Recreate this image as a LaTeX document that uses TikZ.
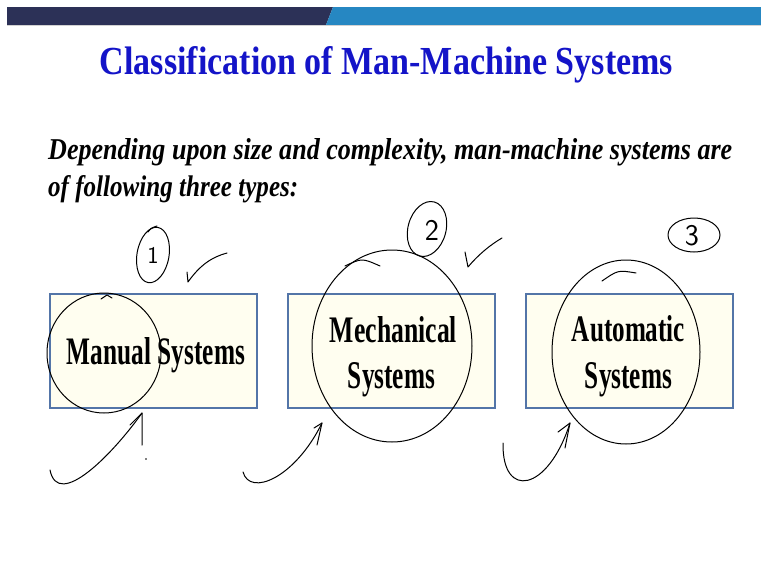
\documentclass[tikz,border=0pt]{standalone}
\usepackage{fontspec}
\setmainfont{Liberation Serif}
\usepackage{graphicx}
\definecolor{bardark}{HTML}{2C3157}
\definecolor{barblue}{HTML}{2687C2}
\definecolor{titleblue}{HTML}{1414C8}
\definecolor{boxedge}{HTML}{5375A8}
\definecolor{boxfill}{HTML}{FFFEF0}
\begin{document}
\begin{tikzpicture}[x=1pt,y=-1pt,
  sysbox/.style={draw=boxedge,line width=2pt,fill=boxfill,minimum width=207pt,minimum height=114pt,inner sep=0pt},
  txt/.style={inner sep=0pt,anchor=base},
  ink/.style={line width=1pt,line cap=round,line join=round},
  digit/.style={inner sep=0pt,font=\sffamily\fontsize{30}{30}\selectfont}]
\useasboundingbox (0,0) rectangle (761,576);
\fill[white] (0,0) rectangle (761,576);
% top bar
\fill[bardark] (7,7) -- (333,7) -- (326,25) -- (7,25) -- cycle;
\fill[barblue] (333,7) -- (761,7) -- (761,25) -- (326,25) -- cycle;
\draw[line width=1pt,color=gray!35] (7,25.5) -- (761,25.5);
% title and lead text
\node[txt,text=titleblue] (title) at (386.5,74) {\resizebox{573pt}{28pt}{\bfseries Classification of Man-Machine Systems}};
\node[txt,anchor=base west] (sub1) at (48,159) {\resizebox{684pt}{21pt}{\bfseries\itshape Depending upon size and complexity, man-machine systems are}};
\node[txt,anchor=base west] (sub2) at (48,196) {\resizebox{250pt}{21pt}{\bfseries\itshape of following three types:}};
% boxes
\node[sysbox] (b1) at (153.5,350.5) {};
\node[sysbox] (b2) at (391.5,350.5) {};
\node[sysbox] (b3) at (629.5,350.5) {};
\node[txt] (t1) at (156,364) {\resizebox{178pt}{27pt}{\bfseries Manual Systems}};
\node[txt] (t2a) at (393.5,342) {\resizebox{127pt}{26pt}{\bfseries Mechanical}};
\node[txt] (t2b) at (391.5,388) {\resizebox{87pt}{26pt}{\bfseries Systems}};
\node[txt] (t3a) at (628.5,341) {\resizebox{113pt}{26pt}{\bfseries Automatic}};
\node[txt] (t3b) at (628.5,388) {\resizebox{87pt}{26pt}{\bfseries Systems}};
% handwritten numbers
\draw[ink,shift={(153,255)},rotate=-10] (0,0) ellipse [x radius=16pt,y radius=28pt];
\draw[ink] (148,232) .. controls (151,228) .. (157,226);
\node[digit,font=\sffamily\fontsize{24}{24}\selectfont] (n1) at (153,255) {1};
\draw[ink,shift={(427,229)},rotate=-15] (0,0) ellipse [x radius=19pt,y radius=28pt];
\node[digit] (n2) at (432,230) {2};
\draw[ink] (694,235) ellipse [x radius=26pt,y radius=17pt];
\node[digit] (n3) at (692,236) {3};
% check marks
\draw[ink] (187,272) -- (188,282) .. controls (200,265) and (212,257) .. (227,253);
\draw[ink] (465,252) -- (468,267) .. controls (478,255) and (490,245) .. (502,238);
% big circles
\draw[ink] (104,353) ellipse [x radius=57pt,y radius=60pt];
\draw[ink] (101,299) -- (107,295) -- (112,298);
\draw[ink] (392,346) ellipse [x radius=80pt,y radius=96pt];
\draw[ink] (345,266) .. controls (362,258) .. (380,266);
\draw[ink] (626,352) ellipse [x radius=74pt,y radius=92pt];
\draw[ink] (602,281) .. controls (618,270) .. (636,273);
% arrows
\coordinate (a1s) at (50,470);
\coordinate (a1t) at (142,413);
\coordinate (a1l) at (130,425);
\coordinate (a1r) at (142,445);
\draw[ink] (a1s) .. controls (58,510) and (112,455) .. (a1t);
\draw[ink] (a1l) -- (a1t) -- (a1r);
\fill (146,459) circle [radius=0.8pt];
\coordinate (a2s) at (243,472);
\coordinate (a2t) at (322,423);
\coordinate (a2l) at (314,428);
\coordinate (a2r) at (317,445);
\draw[ink] (a2s) .. controls (250,497) and (295,478) .. (a2t);
\draw[ink] (a2l) -- (a2t) -- (a2r);
\coordinate (a3s) at (503,443);
\coordinate (a3t) at (570,423);
\coordinate (a3l) at (558,432);
\coordinate (a3r) at (565,448);
\draw[ink] (a3s) .. controls (502,500) and (548,492) .. (a3t);
\draw[ink] (a3l) -- (a3t) -- (a3r);
\end{tikzpicture}
\end{document}
